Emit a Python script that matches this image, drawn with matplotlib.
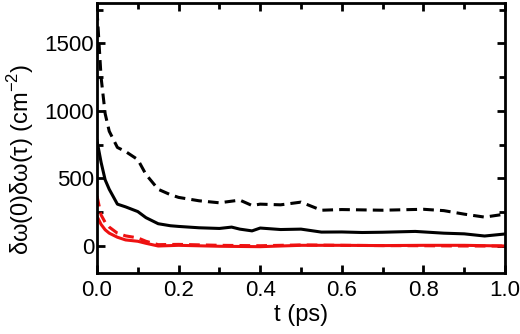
import matplotlib
matplotlib.use("Agg")
import matplotlib.pyplot as plt
from matplotlib.ticker import MultipleLocator

plt.rcParams['font.family'] = ['Liberation Sans', 'DejaVu Sans']
plt.rcParams['mathtext.fontset'] = 'custom'
plt.rcParams['mathtext.rm'] = 'Liberation Sans'

# time points (ps) and correlation values (cm^-2)
t_black_dash = [0.0, 0.005, 0.01, 0.02, 0.03, 0.05, 0.07, 0.1, 0.12, 0.15, 0.18, 0.2, 0.25, 0.3,
                0.35, 0.38, 0.4, 0.45, 0.5, 0.55, 0.6, 0.7, 0.8, 0.85, 0.9, 0.95, 1.0]
black_dash = [1750, 1500, 1250, 980, 850, 730, 700, 640, 530, 420, 380, 360, 335, 320,
              340, 300, 310, 305, 325, 265, 270, 265, 272, 262, 236, 214, 236]

t_black = [0.0, 0.01, 0.02, 0.03, 0.05, 0.07, 0.1, 0.12, 0.15, 0.18, 0.2, 0.25, 0.3, 0.33,
           0.35, 0.38, 0.4, 0.45, 0.5, 0.55, 0.6, 0.65, 0.7, 0.78, 0.85, 0.9, 0.95, 1.0]
black = [780, 620, 490, 420, 310, 290, 255, 210, 165, 150, 145, 135, 130, 140,
         125, 112, 133, 122, 125, 103, 104, 100, 102, 108, 95, 90, 74, 89]

t_red_dash = [0.0, 0.005, 0.01, 0.02, 0.03, 0.05, 0.07, 0.1, 0.12, 0.15, 0.2, 0.3, 0.4, 0.5,
              0.6, 0.7, 0.8, 0.9, 1.0]
red_dash = [370, 300, 230, 175, 140, 95, 75, 60, 35, 10, 12, 5, 2, 8, 5, 3, 2, 0, 0]

t_red = [0.0, 0.01, 0.02, 0.03, 0.05, 0.07, 0.1, 0.12, 0.15, 0.2, 0.3, 0.4, 0.5, 0.6,
         0.7, 0.8, 0.9, 1.0]
red = [220, 160, 120, 95, 65, 45, 35, 20, 0, 5, -2, -5, 5, 5, 3, 5, 5, 0]

fig = plt.figure(figsize=(5.2, 3.34), dpi=100)
ax = fig.add_axes([97 / 520, 1 - 273 / 334, 408 / 520, 270 / 334])

ax.plot(t_black_dash, black_dash, color='black', lw=2.2, ls=(0, (3.5, 2)))
ax.plot(t_black, black, color='black', lw=2.2)
ax.plot(t_red_dash, red_dash, color='#ee1111', lw=2.2, ls=(0, (3.5, 2)))
ax.plot(t_red, red, color='#ee1111', lw=2.2)

ax.set_xlim(0, 1.0)
ax.set_ylim(-200, 1800)
ax.xaxis.set_major_locator(MultipleLocator(0.2))
ax.xaxis.set_minor_locator(MultipleLocator(0.1))
ax.yaxis.set_major_locator(MultipleLocator(500))
ax.yaxis.set_minor_locator(MultipleLocator(250))
ax.xaxis.set_major_formatter(plt.FuncFormatter(lambda v, p: f"{v:.1f}"))

ax.tick_params(which='both', direction='in', top=True, right=True, width=2, labelsize=16)
ax.tick_params(which='major', length=6)
ax.tick_params(which='minor', length=4)
ax.tick_params(axis='x', which='major', pad=5)
ax.tick_params(axis='y', which='major', pad=2)
for s in ax.spines.values():
    s.set_linewidth(2)

ax.set_xlabel('t (ps)', fontsize=17, labelpad=2)
ax.set_ylabel('δω(0)δω(τ) (cm$^{-2}$)', fontsize=17)
ax.yaxis.set_label_coords(-0.15, 0.42)

fig.savefig('out.png', dpi=100)
